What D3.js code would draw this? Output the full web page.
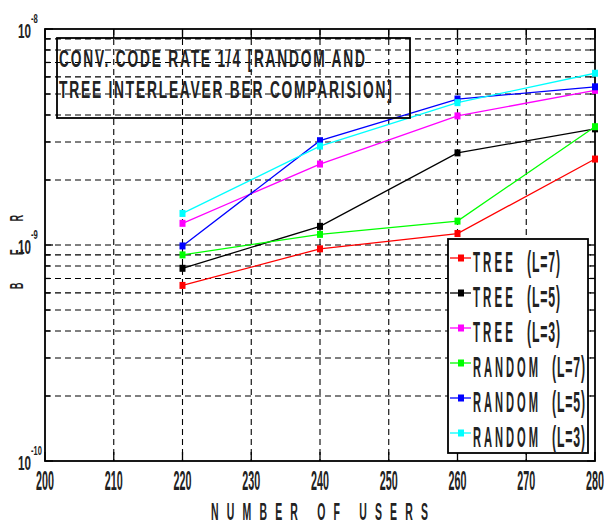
<!DOCTYPE html>
<html>
<head>
<meta charset="utf-8">
<script src="https://cdn.jsdelivr.net/npm/d3@7"></script>
<style>
  html, body { margin: 0; padding: 0; background: #fff; }
  svg { display: block; }
  text { font-family: "Liberation Sans", Arial, sans-serif; fill: #222; }
</style>
</head>
<body>
<script>
// ---------------- data ----------------
const users = [220, 240, 260, 280];
const treeL7   = [6.5e-10, 9.6e-10, 1.13e-9, 2.5e-9];
const treeL5   = [7.8e-10, 1.22e-9, 2.67e-9, 3.45e-9];
const treeL3   = [1.26e-9, 2.37e-9, 3.96e-9, 5.2e-9];
const randomL7 = [9.0e-10, 1.12e-9, 1.29e-9, 3.53e-9];
const randomL5 = [9.9e-10, 3.04e-9, 4.74e-9, 5.4e-9];
const randomL3 = [1.40e-9, 2.87e-9, 4.56e-9, 6.24e-9];
const seriesNames = ["TREE (L=7)", "TREE (L=5)", "TREE (L=3)", "RANDOM (L=7)", "RANDOM (L=5)", "RANDOM (L=3)"];
const seriesValues = [treeL7, treeL5, treeL3, randomL7, randomL5, randomL3];
const seriesColors = ["#ff0000", "#000000", "#ff00ff", "#00ff00", "#0000ff", "#00ffff"];
const xTickValues = [200, 210, 220, 230, 240, 250, 260, 270, 280];
const yMajorValues = [1e-10, 1e-9, 1e-8];
const yMajorExponents = ["-10", "-9", "-8"];
const titleLines = ["CONV. CODE RATE 1/4 [RANDOM AND", "TREE INTERLEAVER BER COMPARISION]"];
const xLabel = "NUMBER OF USERS";
const yLabel = "BER";

// ---------------- layout ----------------
const W = 604, H = 525;
const L = 45, R = 595, T = 29, B = 461;

const svg = d3.select("body").append("svg").attr("width", W).attr("height", H);
svg.append("rect").attr("width", W).attr("height", H).attr("fill", "#fff");

const x = d3.scaleLinear().domain([200, 280]).range([L, R]);
const y = d3.scaleLog().domain([1e-10, 1e-8]).range([B, T]);

// condensed text: natural glyph height, squeezed horizontally to a given width
function fitText(parent, str, xx, yy, size, width, ls, weight) {
  const g = parent.append("g");
  const t = g.append("text")
    .attr("x", 0).attr("y", 0)
    .attr("font-size", size)
    .attr("font-weight", weight || "bold")
    .attr("letter-spacing", ls || 0)
    .attr("xml:space", "preserve")
    .text(str);
  const bb = t.node().getBBox();
  const nat = Math.max(1, bb.width - (ls || 0));
  const sx = width / nat;
  g.attr("transform", `translate(${xx - bb.x * sx},${yy}) scale(${sx},1)`);
  return t;
}

// grid
const grid = svg.append("g").attr("stroke", "#000").attr("stroke-width", 1.1).attr("stroke-dasharray", "6,4");
const yGridVals = y.ticks().filter(v => v > 1.0001e-10 && v < 0.9999e-8);
grid.selectAll("line.h").data(yGridVals).join("line")
  .attr("x1", L).attr("x2", R).attr("y1", d => y(d)).attr("y2", d => y(d));
grid.selectAll("line.v").data(xTickValues.slice(1, -1)).join("line")
  .attr("y1", T).attr("y2", B).attr("x1", d => x(d)).attr("x2", d => x(d));

// ticks (inward, all four sides)
const ticks = svg.append("g").attr("stroke", "#000").attr("stroke-width", 1.3);
xTickValues.forEach(v => {
  ticks.append("line").attr("x1", x(v)).attr("x2", x(v)).attr("y1", B).attr("y2", B - 9);
  ticks.append("line").attr("x1", x(v)).attr("x2", x(v)).attr("y1", T).attr("y2", T + 9);
});
y.ticks().forEach(v => {
  const major = yMajorValues.some(m => Math.abs(Math.log10(m) - Math.log10(v)) < 1e-6);
  const len = major ? 8 : 5;
  ticks.append("line").attr("x1", L).attr("x2", L + len).attr("y1", y(v)).attr("y2", y(v));
  ticks.append("line").attr("x1", R).attr("x2", R - len).attr("y1", y(v)).attr("y2", y(v));
});

// axes box
svg.append("rect").attr("x", L).attr("y", T).attr("width", R - L).attr("height", B - T)
  .attr("fill", "none").attr("stroke", "#000").attr("stroke-width", 1.8);

// series
const line = d3.line().x((d, i) => x(users[i])).y(d => y(d));
seriesValues.forEach((vals, si) => {
  const g = svg.append("g");
  g.append("path").datum(vals).attr("d", line).attr("fill", "none")
    .attr("stroke", seriesColors[si]).attr("stroke-width", 1.3);
  g.selectAll("rect").data(vals).join("rect")
    .attr("x", (d, i) => x(users[i]) - 3).attr("y", d => y(d) - 3.5)
    .attr("width", 6).attr("height", 7).attr("fill", seriesColors[si]);
});

// title box (transparent)
svg.append("rect").attr("x", 57).attr("y", 38).attr("width", 353).attr("height", 80)
  .attr("fill", "none").attr("stroke", "#000").attr("stroke-width", 1.8);
fitText(svg, titleLines[0], 59, 67, 23, 306, 3, "bold").attr("fill", "#333");
fitText(svg, titleLines[1], 59, 98, 23, 333, 3, "bold").attr("fill", "#333");

// legend
const lg = svg.append("g");
lg.append("rect").attr("x", 448).attr("y", 239).attr("width", 140).attr("height", 214)
  .attr("fill", "#fff").attr("stroke", "#000").attr("stroke-width", 1.8);
seriesNames.forEach((name, i) => {
  const cy = 258 + i * 35;
  lg.append("line").attr("x1", 450).attr("x2", 471).attr("y1", cy).attr("y2", cy)
    .attr("stroke", seriesColors[i]).attr("stroke-width", 1.3);
  lg.append("rect").attr("x", 458).attr("y", cy - 3.5).attr("width", 6).attr("height", 7)
    .attr("fill", seriesColors[i]);
  const parts = name.split(" ");
  const isRandom = parts[0].length > 4;
  fitText(lg, parts[0], 473, cy + 13.5, 30, isRandom ? 65 : 40, 8, "bold");
  fitText(lg, parts[1], isRandom ? 552 : 527, cy + 13.5, 30, 33, 2, "bold");
});

// x tick labels
xTickValues.forEach(v => {
  fitText(svg, String(v), x(v) - 9, 490, 27, 18, 0, "bold");
});

// y tick labels (10^exp)
yMajorValues.forEach((v, i) => {
  const base = y(v) + 9;
  fitText(svg, "10", 18, base, 21, 13, 0, "bold");
  const e = yMajorExponents[i];
  fitText(svg, e, 31, base - 15, 12, e.length > 2 ? 11 : 7, 0, "bold");
});

// axis labels
fitText(svg, xLabel, 211, 520, 23, 217, 18, "bold");
svg.append("g").attr("transform", "translate(23,289) rotate(-90)")
  .call(g => fitText(g, yLabel, 0, 0, 19, 74, 60, "bold"));
</script>
</body>
</html>
